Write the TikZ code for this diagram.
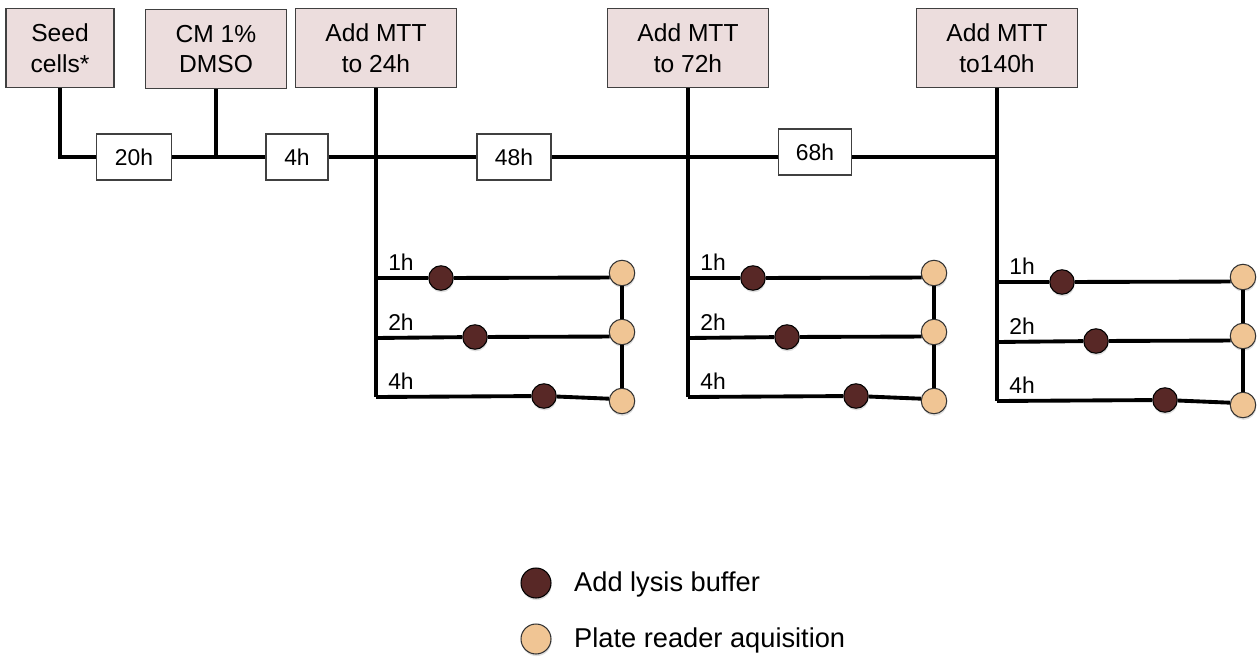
\documentclass[tikz,border=0pt]{standalone}
\usepackage{fontspec}
\setmainfont{Liberation Sans}
\usetikzlibrary{shadows}
\definecolor{boxpink}{RGB}{236,221,221}
\definecolor{lysiscol}{RGB}{88,40,38}
\definecolor{platecol}{RGB}{240,197,148}
\begin{document}
\begin{tikzpicture}[x=0.02cm,y=-0.02cm,
    stepbox/.style={draw=black!75,line width=0.6pt,fill=boxpink,align=center,
      font=\fontsize{14}{17.5}\selectfont,minimum height=1.58cm,inner sep=2pt},
    timebox/.style={draw=black!75,line width=0.6pt,fill=white,
      font=\fontsize{13}{15}\selectfont,minimum height=0.92cm,inner sep=2pt},
    lysis/.style={circle,draw=black,line width=0.6pt,fill=lysiscol,minimum size=0.49cm,inner sep=0pt,
      drop shadow={opacity=0.25,shadow xshift=0.3pt,shadow yshift=-1.2pt}},
    plate/.style={circle,draw=black!80,line width=0.6pt,fill=platecol,minimum size=0.51cm,inner sep=0pt,
      drop shadow={opacity=0.25,shadow xshift=0.3pt,shadow yshift=-1.2pt}},
    rowlabel/.style={font=\fontsize{13}{15}\selectfont,inner sep=1pt},
    keytext/.style={font=\fontsize{15.5}{18}\selectfont,anchor=west},
    link/.style={line width=2.6pt},
    rowlink/.style={line width=2.2pt}]
\useasboundingbox (0,0) rectangle (1259,659);

% steps along the top
\node[stepbox,minimum width=2.16cm] (seed) at (60,48) {Seed\\cells*};
\node[stepbox,minimum width=2.82cm] (cm) at (216,49) {CM 1\%\\DMSO};
\node[stepbox,minimum width=3.22cm] (mtta) at (376,48) {Add MTT\\to 24h};
\node[stepbox,minimum width=3.22cm] (mttb) at (688,48) {Add MTT\\to 72h};
\node[stepbox,minimum width=3.22cm] (mttc) at (997,48) {Add MTT\\to140h};

% time intervals
\node[timebox,minimum width=1.5cm] (t20) at (134,157) {20h};
\node[timebox,minimum width=1.24cm] (t4) at (297,157) {4h};
\node[timebox,minimum width=1.48cm] (t48) at (514,157) {48h};
\node[timebox,minimum width=1.46cm] (t68) at (815,152) {68h};

\draw[link] (seed.south) |- (t20);
\draw[link] (cm.south) -- (cm.south |- t20);
\draw[link] (t20) -- (t4) -- (t48);
\draw[link] (t48) -- (t48 -| t68.west);
\draw[link] (t68.east |- t48) -- (mttc.south |- t48);

% readouts after each MTT addition
\foreach \c/\x/\dy in {a/376/0,b/688/0,c/997/4} {
  \coordinate (\c1) at (\x,{278+\dy});
  \coordinate (\c2) at (\x,{338+\dy});
  \coordinate (\c3) at (\x,{397+\dy});
  \node[rowlabel] (lb\c1) at ({\x+25},{262+\dy}) {1h};
  \node[rowlabel] (lb\c2) at ({\x+25},{322+\dy}) {2h};
  \node[rowlabel] (lb\c3) at ({\x+25},{381+\dy}) {4h};
  \node[lysis] (ly\c1) at ({\x+65},{278+\dy}) {};
  \node[lysis] (ly\c2) at ({\x+99},{337+\dy}) {};
  \node[lysis] (ly\c3) at ({\x+168},{396+\dy}) {};
  \node[plate] (pr\c1) at ({\x+246},{273+\dy}) {};
  \node[plate] (pr\c2) at ({\x+246},{332+\dy}) {};
  \node[plate] (pr\c3) at ({\x+246},{401+\dy}) {};
  \draw[link] (mtt\c.south) -- (\c3);
  \draw[rowlink] (\c1) -- (ly\c1) -- (pr\c1.200);
  \draw[rowlink] (\c2) -- (ly\c2) -- (pr\c2.200);
  \draw[rowlink] (\c3) -- (ly\c3) -- (pr\c3.170);
  \draw[rowlink] (pr\c1) -- (pr\c2) -- (pr\c3);
}

% key
\node[lysis,minimum size=0.6cm] (keylysis) at (536,583) {};
\node[keytext] (keylysistext) at (568,584) {Add lysis buffer};
\node[plate,minimum size=0.6cm] (keyplate) at (536,639) {};
\node[keytext] (keyplatetext) at (568,640) {Plate reader aquisition};
\end{tikzpicture}
\end{document}
